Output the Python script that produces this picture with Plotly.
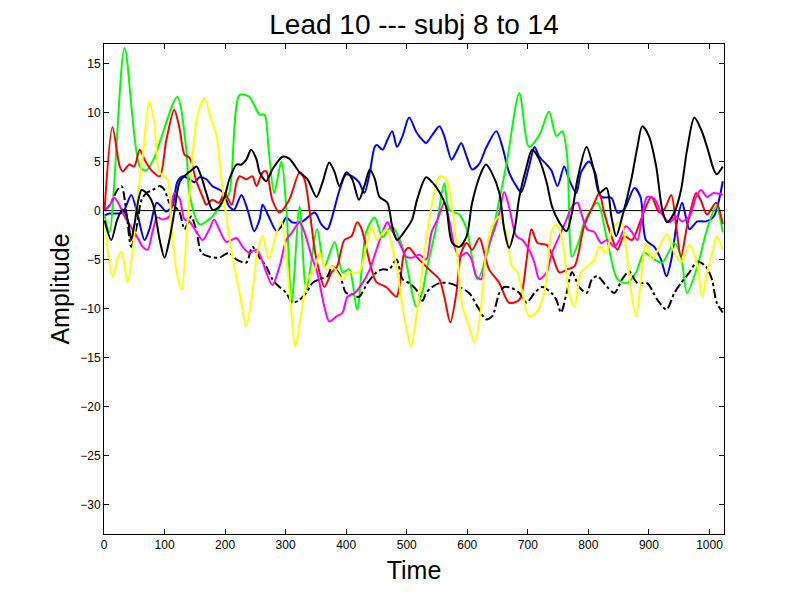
import plotly.graph_objects as go

# ---------------------------------------------------------------------------
# Data (time samples, amplitude)
# ---------------------------------------------------------------------------

blue_t = [1, 9, 21, 31, 45, 55, 67, 75, 87, 95, 103, 113, 121, 130, 141, 149, 158, 169, 179, 196,
          207, 215, 227, 237, 248, 257, 262, 272, 285, 293, 301, 311, 328, 348, 359, 369, 377, 389, 400, 410,
          421, 430, 439, 447, 451, 460, 468, 476, 484, 493, 504, 516, 526, 532, 542, 554, 562, 574, 582, 590,
          599, 608, 620, 631, 648, 658, 669, 681, 689, 702, 711, 719, 731, 739, 749, 760, 768, 780, 788, 801,
          811, 821, 838, 848, 859, 876, 886, 895, 909, 920, 929, 937, 947, 955, 967, 980, 994, 1007, 1022]
blue_v = [-0.5, -0.3, -0.3, -0.2, 1.6, -0.3, -3.0, -1.9, 0.8, 0.4, -0.1, 0.5, 2.9, 3.5, 3.2, 2.9, 3.4, 3.2, 2.5, 1.9,
          0.4, 0.1, 1.6, 0.1, -2.1, -0.9, 0.6, -0.6, -2.1, -1.6, -0.7, -1.2, -1.1, -0.2, -1.4, -1.9, -0.6, 2.1, 3.7, 3.5,
          2.9, 1.8, 3.9, 6.5, 6.7, 6.2, 7.2, 8.1, 6.5, 7.6, 9.5, 8.0, 7.2, 6.9, 7.7, 8.6, 7.6, 5.2, 6.0, 6.9,
          5.5, 4.2, 4.8, 6.4, 8.1, 6.5, 3.9, 2.5, 1.9, 4.5, 6.5, 5.5, 4.7, 4.1, 2.5, 4.5, 3.2, 1.8, 3.9, 5.0,
          3.9, 1.4, 1.3, -0.2, 0.1, 2.3, 1.4, -3.0, -3.7, -5.0, -6.7, -5.0, -0.9, 0.8, -1.9, -1.1, -1.1, -0.6, 3.0]

green_t = [1, 9, 34, 59, 70, 83, 121, 136, 141, 158, 179, 196, 207, 224, 240, 257, 265, 272, 281, 293,
           301, 310, 323, 334, 352, 364, 381, 394, 405, 418, 433, 447, 460, 475, 493, 516, 527, 532, 549, 562,
           570, 587, 599, 617, 636, 653, 666, 686, 702, 719, 735, 747, 757, 765, 773, 785, 793, 815, 831, 848,
           864, 879, 892, 909, 922, 942, 953, 963, 980, 996, 1011, 1022]
green_v = [-0.5, -2.2, 16.6, 4.5, 4.1, 5.4, 11.6, 6.2, 1.8, -1.4, -0.6, 0.8, 1.8, 11.8, 11.6, 9.8, 9.8, 6.2, 1.8, 5.0,
           0.4, -9.4, 0.4, -8.0, -1.9, -5.7, -3.2, -6.3, -6.0, -10.1, -2.2, -0.7, -2.7, -1.6, -3.7, -9.8, -8.0, -6.3, -1.6, 2.8,
           0.1, -0.4, -1.9, -7.0, -3.7, 1.1, 5.2, 12.0, 6.5, 7.7, 10.1, 7.6, 8.1, 5.5, -4.7, -3.0, -1.2, 0.8, -3.0, -7.0,
           -7.4, -6.3, -4.3, -5.0, -5.3, -3.3, -4.7, -8.4, -5.7, -1.9, 0.4, -2.2]

red_t = [1, 14, 26, 31, 42, 50, 59, 67, 80, 92, 103, 116, 125, 133, 141, 153, 163, 169, 179, 190,
         199, 211, 219, 224, 235, 245, 252, 262, 268, 278, 290, 306, 323, 331, 340, 348, 356, 364, 376, 385,
         397, 409, 418, 425, 439, 450, 466, 483, 488, 496, 504, 516, 532, 542, 554, 562, 572, 582, 590, 599,
         608, 620, 628, 636, 653, 669, 686, 698, 706, 716, 731, 740, 752, 765, 777, 793, 810, 818, 826, 838,
         848, 859, 872, 887, 904, 917, 926, 937, 945, 953, 963, 978, 986, 996, 1011, 1022]
red_v = [0.1, 8.5, 4.5, 4.0, 4.7, 4.5, 6.2, 5.2, 4.0, 3.5, 7.2, 10.3, 8.3, 5.7, 5.4, 2.9, 1.4, 0.6, 1.1, 0.8,
         1.8, 0.6, 2.9, 3.5, 3.2, 3.5, 2.5, 3.9, 4.0, 1.1, -0.2, 1.1, 3.9, 3.2, -0.2, -4.0, -6.3, -7.8, -6.3, -5.7,
         -3.0, -2.6, -1.2, -1.8, -5.3, -7.3, -7.8, -8.8, -7.8, -4.3, -3.8, -4.7, -5.7, -6.3, -7.0, -8.8, -11.4, -8.4, -4.3, -3.3,
         -4.0, -2.8, -4.3, -6.0, -7.4, -9.4, -9.1, -5.0, -1.9, -3.3, -3.5, -4.5, -6.3, -6.0, -5.7, -1.6, 0.8, 1.8, -0.2, -2.6,
         -4.0, -2.6, -3.0, -0.9, 1.4, -0.2, 0.2, 1.6, -1.6, -4.7, -1.6, 1.8, 1.0, -0.4, 0.8, -1.4]

dashdot_t = [1, 9, 22, 29, 37, 45, 54, 62, 70, 80, 92, 100, 108, 116, 125, 133, 144, 153, 161, 174,
             190, 207, 219, 235, 245, 257, 268, 278, 290, 301, 311, 323, 334, 344, 356, 369, 377, 389, 400, 410,
             421, 435, 450, 460, 471, 483, 493, 504, 516, 526, 532, 542, 554, 570, 587, 603, 617, 631, 641, 653,
             661, 673, 686, 698, 711, 724, 739, 747, 755, 764, 773, 785, 797, 806, 815, 831, 843, 856, 867, 881,
             897, 914, 929, 942, 953, 967, 980, 994, 1004, 1012, 1022]
dashdot_v = [0, 0.5, 2.1, 2.5, -0.2, -3.7, -1.6, 1.1, 1.8, 2.1, 2.5, 2.1, 0.8, 0.5, -0.2, -1.9, -0.6, -2.2, -4.3, -4.7,
             -4.8, -4.3, -5.0, -5.3, -3.7, -4.8, -5.7, -7.0, -7.8, -8.4, -9.4, -9.1, -8.4, -7.4, -7.0, -6.7, -5.7, -6.5, -8.4, -8.5,
             -8.8, -7.4, -6.3, -6.0, -6.0, -5.0, -7.0, -7.4, -8.1, -9.2, -8.4, -7.8, -7.4, -7.4, -7.8, -8.4, -9.8, -11.1, -10.8, -8.4,
             -7.8, -7.9, -8.4, -9.4, -8.4, -7.8, -8.4, -9.1, -10.4, -8.4, -6.3, -7.8, -8.4, -7.0, -6.7, -7.8, -8.4, -7.0, -6.2, -7.4,
             -7.4, -9.1, -10.1, -8.4, -7.4, -6.3, -5.2, -5.7, -7.0, -9.4, -10.4]

magenta_t = [1, 9, 17, 26, 34, 42, 54, 64, 72, 80, 88, 97, 108, 116, 125, 133, 141, 153, 163, 174,
             182, 190, 202, 211, 219, 229, 240, 252, 262, 268, 278, 290, 301, 311, 323, 331, 343, 352, 364, 372,
             384, 394, 402, 414, 425, 439, 450, 460, 468, 476, 488, 499, 509, 521, 532, 541, 551, 562, 570, 579,
             587, 599, 607, 615, 623, 631, 645, 653, 661, 669, 681, 691, 702, 711, 719, 731, 740, 752, 764, 773,
             782, 788, 798, 810, 821, 831, 843, 851, 862, 872, 881, 889, 897, 909, 920, 934, 945, 955, 967, 978,
             986, 996, 1007, 1022]
magenta_v = [0, 0.5, 1.3, 0.5, -0.6, -1.4, -2.6, -3.7, -4.0, -2.2, -0.7, -0.9, -0.6, 1.8, 1.2, -0.9, -1.1, -2.2, -3.0, -1.9,
             -0.9, -1.9, -3.2, -3.0, -2.8, -3.7, -4.3, -4.0, -5.2, -6.3, -7.6, -5.7, -3.0, -2.2, -1.2, -2.2, -4.7, -6.3, -9.8, -11.3,
             -10.8, -10.4, -8.8, -8.4, -7.6, -6.0, -4.0, -2.2, -1.2, -2.1, -3.3, -4.7, -4.8, -4.5, -5.0, -2.2, -0.9, 0.8, -0.9, -3.7,
             -4.7, -4.3, -5.0, -6.7, -7.0, -4.3, -1.9, -0.2, 1.9, 0.4, -2.6, -3.0, -4.0, -5.3, -7.0, -6.3, -4.3, -2.6, -0.9, 0.4,
             0.8, -0.2, -1.9, -2.2, -3.3, -3.0, -3.7, -3.0, -1.6, -2.2, -3.0, -0.6, 1.4, 1.2, -0.2, -1.2, -0.6, -1.1, -0.6, 1.4,
             2.1, 1.4, 1.8, 1.6]

yellow_t = [1, 6, 14, 22, 29, 39, 47, 55, 64, 75, 83, 92, 105, 111, 120, 128, 136, 144, 154, 166,
            177, 186, 194, 202, 212, 224, 235, 245, 253, 262, 272, 285, 293, 301, 310, 316, 326, 336, 348, 356,
            367, 377, 394, 405, 421, 433, 442, 451, 466, 483, 493, 501, 507, 516, 526, 537, 554, 565, 575, 584,
            592, 603, 612, 623, 631, 641, 653, 664, 674, 683, 691, 702, 714, 727, 739, 747, 757, 768, 777, 788,
            798, 810, 818, 830, 839, 854, 862, 871, 879, 887, 895, 905, 920, 930, 942, 953, 967, 978, 988, 996,
            1007, 1012, 1022]
yellow_v = [-0.9, -4.0, -6.7, -5.0, -4.2, -7.3, -4.3, 1.1, 5.5, 11.1, 9.0, 3.9, 3.2, -1.6, -6.3, -8.1, -3.0, 3.9, 9.6, 11.5,
            9.3, 7.6, 3.2, -0.6, -4.7, -8.4, -11.8, -8.4, -4.3, -2.6, -5.0, -2.2, -1.1, -4.7, -10.8, -13.9, -10.4, -7.0, -6.0, -4.3,
            -6.0, -5.7, -7.0, -6.3, -6.3, -3.7, -1.6, -3.0, -1.9, -5.7, -9.8, -12.4, -13.9, -10.8, -6.0, -1.0, 3.5, 3.2, 0.4, -4.7,
            -9.8, -11.8, -13.5, -9.8, -4.3, -1.6, -0.6, -2.2, -5.7, -6.3, -8.4, -10.8, -10.4, -8.4, -2.2, -1.4, -3.0, -8.4, -9.8, -6.3,
            -5.7, -5.0, -3.7, -4.3, -1.9, -1.1, -3.7, -8.4, -10.8, -7.0, -3.3, -5.0, -3.3, -2.4, -4.3, -5.3, -3.5, -5.0, -8.8, -6.3,
            -3.7, -2.6, -4.0]

black_t = [1, 12, 22, 31, 39, 45, 50, 62, 70, 78, 83, 92, 100, 108, 116, 125, 136, 146, 153, 161,
           169, 179, 187, 199, 207, 219, 227, 235, 243, 252, 257, 268, 278, 295, 306, 323, 336, 351, 361, 372,
           381, 389, 400, 410, 421, 430, 439, 447, 455, 468, 476, 484, 499, 509, 517, 532, 542, 554, 565, 575,
           587, 599, 608, 623, 631, 641, 653, 661, 669, 678, 686, 698, 707, 719, 731, 740, 752, 764, 773, 782,
           797, 810, 818, 830, 838, 846, 856, 871, 881, 889, 900, 912, 922, 930, 942, 953, 963, 975, 986, 996,
           1007, 1012, 1022]
black_v = [-1.0, -3.0, -0.9, 0.1, -0.9, -3.0, -1.5, 2.1, 1.8, 1.1, 0.2, -3.0, -4.8, -3.0, -0.2, 2.9, 3.7, 4.2, 4.5, 3.4,
           1.8, 0.1, 0.2, 1.4, 3.2, 4.7, 4.7, 5.2, 6.2, 5.2, 3.9, 3.0, 4.2, 5.5, 5.3, 3.9, 3.2, 1.4, 2.9, 4.9,
           3.9, 2.5, 3.9, 3.2, 1.1, 2.5, 4.2, 3.3, 1.4, 0.8, -1.6, -3.0, -1.9, -0.9, 1.1, 3.4, 2.9, 1.9, 0.4, -3.3,
           -3.7, -2.6, 0.8, 3.9, 4.7, 3.8, 1.8, -1.9, -3.8, -2.0, 1.4, 4.5, 6.2, 5.2, 2.9, 0.4, -1.2, -2.1, -0.2, 3.2,
           6.5, 3.9, 1.8, 2.3, -0.6, -2.6, -0.6, 3.2, 6.5, 8.6, 7.6, 4.5, 0.1, -1.2, -0.2, 2.1, 6.2, 9.5, 8.3, 6.5,
           4.2, 3.7, 4.5]

x_ticks = list(range(0, 1001, 100))
y_ticks = list(range(-30, 16, 5))

FONT = "Liberation Sans, Arial, sans-serif"

# draw order roughly as MATLAB plotted the subjects
series = [
    (blue_t, blue_v, "#0000ff", "solid"),
    (green_t, green_v, "#00ff00", "solid"),
    (red_t, red_v, "#ff0000", "solid"),
    (dashdot_t, dashdot_v, "#000000", "dashdot"),
    (magenta_t, magenta_v, "#ff00ff", "solid"),
    (yellow_t, yellow_v, "#ffff00", "solid"),
    (black_t, black_v, "#000000", "solid"),
]

fig = go.Figure()
fig.add_hline(y=0, line=dict(color="black", width=1), layer="below")
for t, v, col, dash in series:
    fig.add_trace(go.Scatter(
        x=t, y=v, mode="lines",
        line=dict(color=col, width=2, dash=dash, shape="spline", smoothing=0.8),
        showlegend=False, hoverinfo="skip",
    ))

# page body adds an 8px offset, so margins are shifted to land the axes box
fig.update_layout(
    width=800, height=601,
    margin=dict(l=96, r=84, t=36, b=75),
    paper_bgcolor="white", plot_bgcolor="white",
    font=dict(family=FONT, color="black"),
    title=dict(text="Lead 10 --- subj 8 to 14", x=0.5, xref="paper", xanchor="center",
               y=1 - 16 / 601, yref="container", yanchor="middle",
               font=dict(size=28, family=FONT, color="black")),
)
fig.update_xaxes(
    range=[0, 1024], tickvals=x_ticks, ticks="inside", ticklen=5, tickcolor="black",
    showline=True, linecolor="black", linewidth=1, mirror="ticks",
    showgrid=False, zeroline=False, tickfont=dict(size=12, color="black"),
    title=dict(text="Time", font=dict(size=25, color="black"), standoff=10),
)
fig.update_yaxes(
    range=[-33, 17], tickvals=y_ticks, ticks="inside", ticklen=5, tickcolor="black",
    showline=True, linecolor="black", linewidth=1, mirror="ticks",
    showgrid=False, zeroline=False, tickfont=dict(size=12, color="black"),
    title=dict(text="Amplitude", font=dict(size=25, color="black"), standoff=3),
)

fig.write_html("out.html")
